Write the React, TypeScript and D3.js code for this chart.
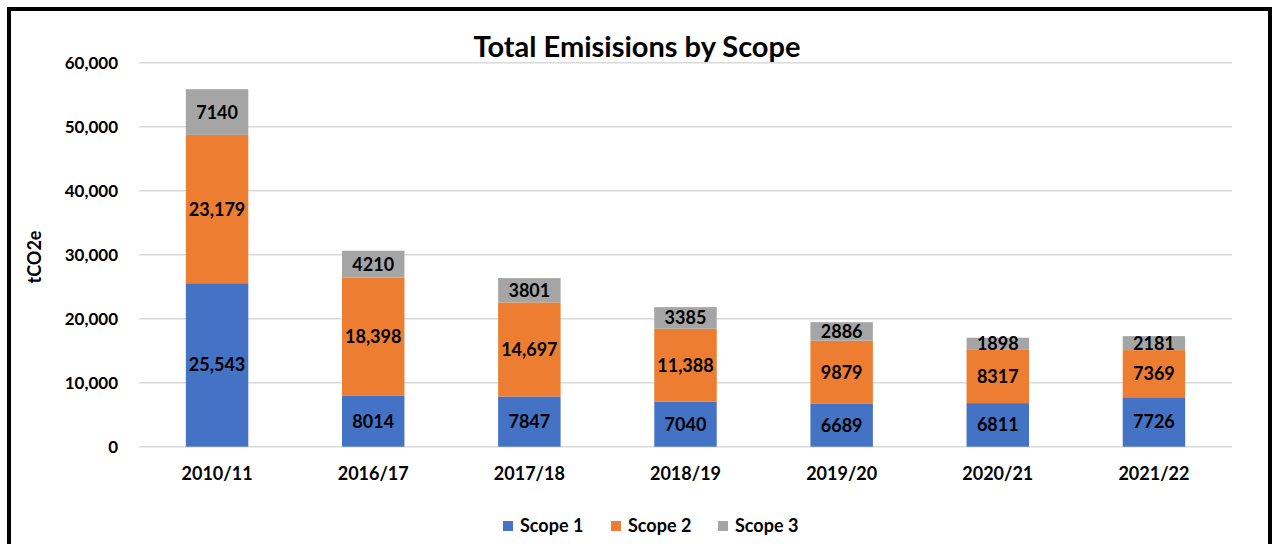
import React, { useEffect, useRef } from 'react';
import * as d3 from 'd3';

const years = ['2010/11', '2016/17', '2017/18', '2018/19', '2019/20', '2020/21', '2021/22'];
const scope1 = [25543, 8014, 7847, 7040, 6689, 6811, 7726];
const scope2 = [23179, 18398, 14697, 11388, 9879, 8317, 7369];
const scope3 = [7140, 4210, 3801, 3385, 2886, 1898, 2181];
const seriesNames = ['Scope 1', 'Scope 2', 'Scope 3'];
const yTicks = [0, 10000, 20000, 30000, 40000, 50000, 60000];

const colors = ['#4472C4', '#ED7D31', '#A5A5A5'];
const FONT = 'Lato, "Open Sans", sans-serif';

const App: React.FC = () => {
    const svgRef = useRef<SVGSVGElement>(null);

    useEffect(() => {
        if (!svgRef.current) return;
        const svg = d3.select(svgRef.current);
        svg.selectAll('*').remove();

        const width = 1273;
        const height = 544;

        svg.attr('width', width).attr('height', height);

        svg.append('rect').attr('x', 0).attr('y', 0).attr('width', width).attr('height', height).attr('fill', '#fff');

        // frame (bottom edge is cut off in the original)
        svg.append('path')
            .attr('d', `M9,${height + 5} L9,9 L1270,9 L1270,${height + 5}`)
            .attr('fill', 'none')
            .attr('stroke', '#000')
            .attr('stroke-width', 4);

        const x = d3.scaleBand<string>().domain(years).range([139, 1232]).paddingInner(0.6).paddingOuter(0.3);
        const y = d3.scaleLinear().domain([0, 60000]).range([446.7, 62.7]);

        // grid
        svg.append('g')
            .selectAll('line')
            .data(yTicks)
            .enter()
            .append('line')
            .attr('x1', 139)
            .attr('x2', 1232)
            .attr('y1', d => y(d))
            .attr('y2', d => y(d))
            .attr('stroke', '#d9d9d9')
            .attr('stroke-width', 1.5);

        // y tick labels
        const fmt = d3.format(',');
        svg.append('g')
            .selectAll('text')
            .data(yTicks)
            .enter()
            .append('text')
            .attr('x', 118)
            .attr('y', d => y(d))
            .attr('dy', '0.35em')
            .attr('text-anchor', 'end')
            .style('font-family', FONT)
            .style('font-weight', 700)
            .style('font-size', '17px')
            .attr('fill', '#000')
            .text(d => fmt(d));

        // y title
        svg.append('text')
            .attr('transform', 'translate(41,257) rotate(-90)')
            .attr('text-anchor', 'middle')
            .style('font-family', FONT)
            .style('font-weight', 700)
            .style('font-size', '18px')
            .text('tCO2e');

        // stacked bars
        const table = years.map((yr, i) => ({ year: yr, s0: scope1[i], s1: scope2[i], s2: scope3[i] }));
        const stacked = d3.stack<any>().keys(['s0', 's1', 's2'])(table);
        const labelFmt = (v: number) => (v >= 10000 ? fmt(v) : String(v));

        stacked.forEach((layer, li) => {
            const g = svg.append('g');
            g.selectAll('rect')
                .data(layer)
                .enter()
                .append('rect')
                .attr('x', d => x(d.data.year)!)
                .attr('width', x.bandwidth())
                .attr('y', d => y(d[1]))
                .attr('height', d => y(d[0]) - y(d[1]))
                .attr('fill', colors[li]);

            g.selectAll('text')
                .data(layer)
                .enter()
                .append('text')
                .attr('x', d => x(d.data.year)! + x.bandwidth() / 2)
                .attr('y', d => (y(d[0]) + y(d[1])) / 2)
                .attr('dy', '0.36em')
                .attr('text-anchor', 'middle')
                .style('font-family', FONT)
                .style('font-weight', 700)
                .style('font-size', '18px')
                .attr('fill', '#000')
                .text(d => labelFmt(d[1] - d[0]));
        });

        // x labels
        svg.append('g')
            .selectAll('text')
            .data(years)
            .enter()
            .append('text')
            .attr('x', d => x(d)! + x.bandwidth() / 2)
            .attr('y', 474)
            .attr('dy', '0.35em')
            .attr('text-anchor', 'middle')
            .style('font-family', FONT)
            .style('font-weight', 700)
            .style('font-size', '18px')
            .text(d => d);

        // title
        svg.append('text')
            .attr('x', 637)
            .attr('y', 47)
            .attr('dy', '0.35em')
            .attr('text-anchor', 'middle')
            .style('font-family', FONT)
            .style('font-weight', 700)
            .style('font-size', '29px')
            .text('Total Emisisions by Scope');

        // legend
        const legendX = [503, 611, 718];
        const legend = svg.append('g')
            .selectAll('g')
            .data(seriesNames)
            .enter()
            .append('g')
            .attr('transform', (_, i) => `translate(${legendX[i]},526)`);
        legend.append('rect')
            .attr('x', 0)
            .attr('y', -5)
            .attr('width', 10)
            .attr('height', 10)
            .attr('fill', (_, i) => colors[i]);
        legend.append('text')
            .attr('x', 17)
            .attr('y', 0)
            .attr('dy', '0.35em')
            .style('font-family', FONT)
            .style('font-weight', 700)
            .style('font-size', '18px')
            .text(d => d);
    }, []);

    return <svg ref={svgRef} style={{ position: 'absolute', left: 0, top: 0, display: 'block' }} />;
};

export default App;
